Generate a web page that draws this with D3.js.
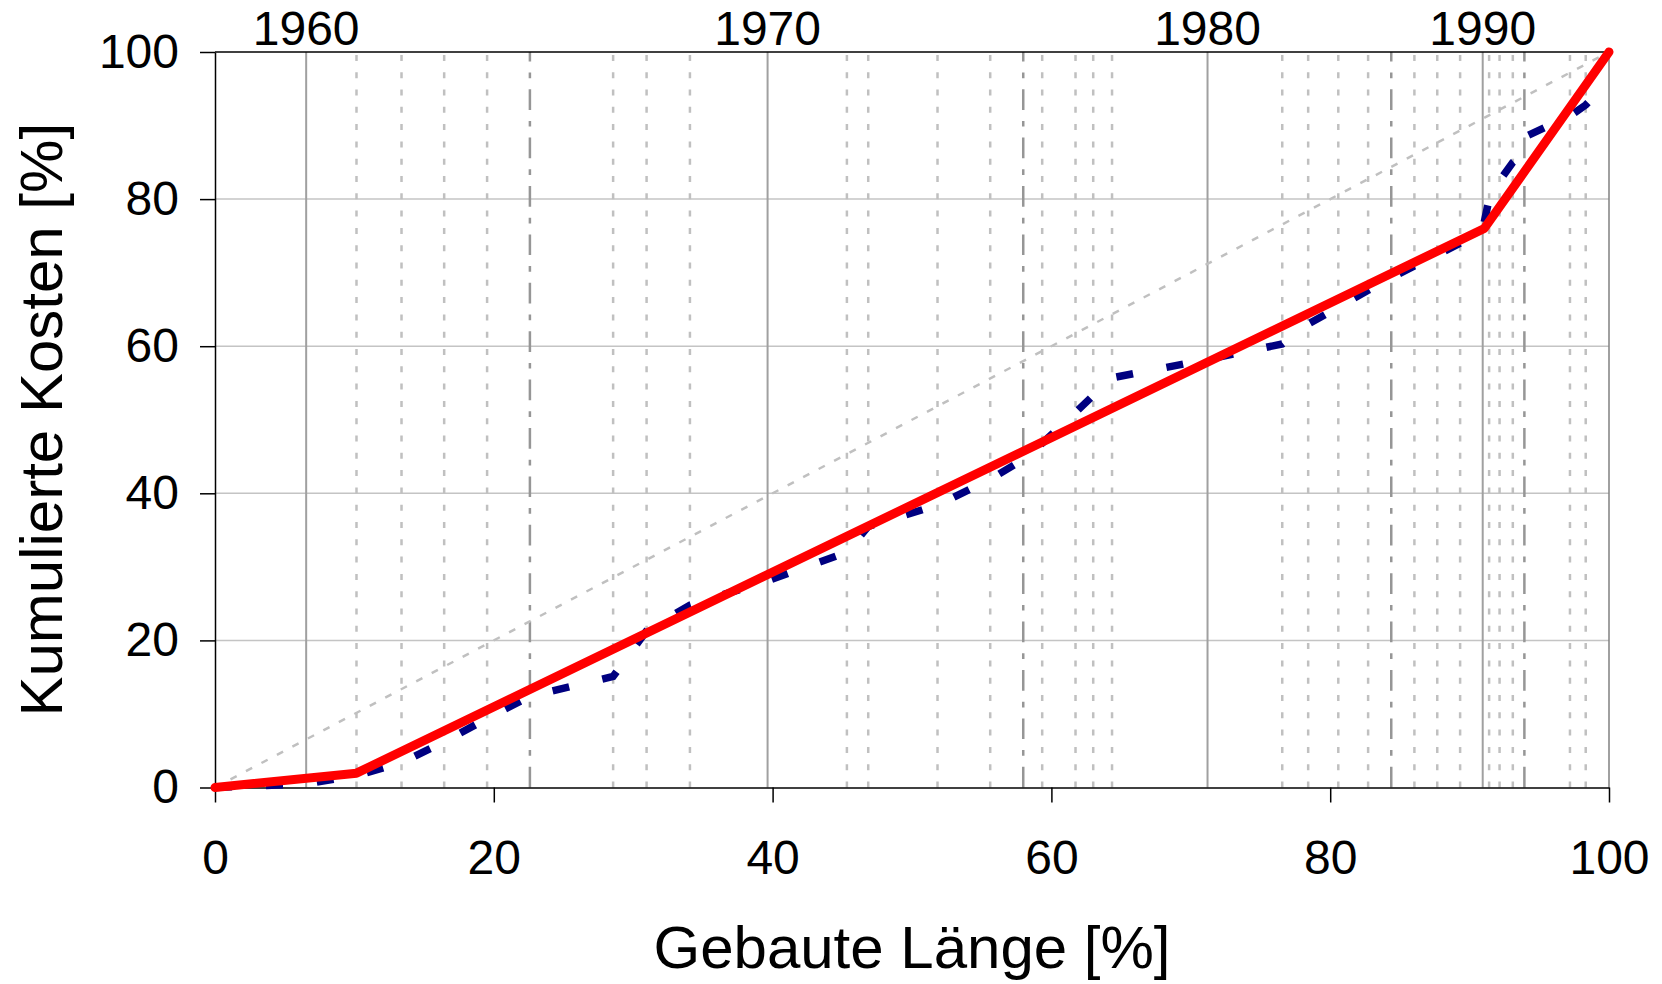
<!DOCTYPE html>
<html>
<head>
<meta charset="utf-8">
<script src="https://cdn.jsdelivr.net/npm/d3@7"></script>
<style>
  body { margin: 0; background: #fff; }
  svg { display: block; font-family: "Liberation Sans", Arial, sans-serif; }
</style>
</head>
<body>
<div id="chart"></div>
<script>
// year markers (x position in % of built length)
const decadeLabels = ["1960", "1970", "1980", "1990"];
const decadeX = [6.54, 39.64, 71.2, 90.94];
const halfDecadeX = [22.59, 57.98, 84.38, 93.93];
const yearX = [10.15, 13.38, 16.44, 19.52, 28.56, 30.96, 34.07, 45.33, 46.86, 51.83,
  55.61, 59.34, 61.73, 63.0, 64.35, 76.56, 78.42, 80.58, 82.72, 86.04, 87.68, 89.32,
  91.4, 92.15, 93.1, 97.2, 98.33];

// cumulative costs, per year
const costX = [0, 6.54, 10.15, 13.38, 16.44, 19.52, 22.59, 28.56, 30.96, 34.07, 39.64,
  45.33, 46.86, 51.83, 55.61, 57.98, 59.34, 61.73, 63.0, 64.35, 71.2, 76.56, 78.42,
  80.58, 82.72, 84.38, 86.04, 87.68, 89.32, 90.94, 91.4, 92.15, 93.1, 93.9, 94.0,
  97.2, 98.33, 100];
const costY = [0, 0.5, 1.6, 3.4, 6.2, 9.4, 12.4, 15.1, 21.3, 24.8, 28.1,
  32.0, 35.5, 38.4, 41.9, 44.6, 46.8, 51.0, 53.3, 55.7, 58.2, 60.3, 63.0,
  65.3, 67.6, 69.3, 70.9, 72.4, 74.0, 75.9, 80.0, 82.5, 85.0, 86.2, 88.5,
  91.3, 92.8, 96.0];

// piecewise fit
const fitX = [0, 10.15, 91.05, 100];
const fitY = [0, 1.95, 76.0, 100];

// equal distribution
const diagX = [0, 100];
const diagY = [0, 100];

const xTicks = [0, 20, 40, 60, 80, 100];
const yTicks = [0, 20, 40, 60, 80, 100];

const width = 1662;
const height = 984;
const margin = { top: 52, right: 53, bottom: 196.5, left: 215 };

const svg = d3.select("#chart")
  .append("svg")
  .attr("width", width)
  .attr("height", height);

const xScale = d3.scaleLinear()
  .domain([0, 100])
  .range([margin.left, width - margin.right]);

const yScale = d3.scaleLinear()
  .domain([0, 100])
  .range([height - margin.bottom, margin.top]);

// horizontal gridlines
svg.append("g")
  .selectAll("line")
  .data(yTicks.filter(d => d > 0 && d < 100))
  .join("line")
  .attr("x1", xScale(0))
  .attr("x2", xScale(100))
  .attr("y1", d => yScale(d))
  .attr("y2", d => yScale(d))
  .attr("stroke", "#c4c4c4")
  .attr("stroke-width", 1.5);

// year lines, drawn from bottom upward
const vline = (cls, data, color, w, dash) => {
  svg.append("g")
    .attr("class", cls)
    .selectAll("line")
    .data(data)
    .join("line")
    .attr("x1", d => xScale(d))
    .attr("x2", d => xScale(d))
    .attr("y1", yScale(0))
    .attr("y2", yScale(100))
    .attr("stroke", color)
    .attr("stroke-width", w)
    .attr("stroke-dasharray", dash);
};
vline("years", yearX, "#c0c0c0", 2.5, "6,11.3");
vline("half", halfDecadeX, "#969696", 2.5, "20.7,11,5.7,11");
vline("decades", decadeX, "#a0a0a0", 2, null);

// right border
svg.append("line")
  .attr("x1", xScale(100)).attr("x2", xScale(100))
  .attr("y1", yScale(0)).attr("y2", yScale(100))
  .attr("stroke", "#808080")
  .attr("stroke-width", 1.5);

// top border
svg.append("line")
  .attr("x1", xScale(0)).attr("x2", xScale(100))
  .attr("y1", yScale(100)).attr("y2", yScale(100))
  .attr("stroke", "#000")
  .attr("stroke-width", 1.5);

// decade labels on top
svg.append("g")
  .selectAll("text")
  .data(decadeX)
  .join("text")
  .attr("x", d => xScale(d))
  .attr("y", 45)
  .attr("text-anchor", "middle")
  .attr("font-size", 48)
  .text((d, i) => decadeLabels[i]);

// add the xAxis
const xAxis = d3.axisBottom(xScale)
  .tickValues(xTicks)
  .tickSize(15)
  .tickSizeOuter(0)
  .tickPadding(37);
svg.append("g")
  .attr("transform", `translate(0,${yScale(0)})`)
  .call(xAxis)
  .call(g => g.selectAll("text").attr("font-size", 48).attr("font-family", null).attr("fill", "#000"))
  .call(g => g.selectAll("line, path").attr("stroke", "#000").attr("stroke-width", 1.5));

// add the yAxis
const yAxis = d3.axisLeft(yScale)
  .tickValues(yTicks)
  .tickSize(15)
  .tickSizeOuter(0)
  .tickPadding(21);
svg.append("g")
  .attr("transform", `translate(${xScale(0)},0)`)
  .call(yAxis)
  .call(g => g.selectAll("text").attr("font-size", 48).attr("font-family", null).attr("fill", "#000"))
  .call(g => g.selectAll("line, path").attr("stroke", "#000").attr("stroke-width", 1.5));

const line = d3.line()
  .x(d => xScale(d[0]))
  .y(d => yScale(d[1]));

// diagonal
svg.append("path")
  .datum(d3.zip(diagX, diagY))
  .attr("d", line)
  .attr("fill", "none")
  .attr("stroke", "#c0c0c0")
  .attr("stroke-width", 2.5)
  .attr("stroke-dasharray", "7,10.5");

// cumulative costs
svg.append("path")
  .datum(d3.zip(costX, costY))
  .attr("d", line)
  .attr("fill", "none")
  .attr("stroke", "#000080")
  .attr("stroke-width", 7.5)
  .attr("stroke-dasharray", "17,34");

// fit
svg.append("path")
  .datum(d3.zip(fitX, fitY))
  .attr("d", line)
  .attr("fill", "none")
  .attr("stroke", "#ff0000")
  .attr("stroke-width", 9)
  .attr("stroke-linejoin", "round")
  .attr("stroke-linecap", "round");

// axis titles
svg.append("text")
  .attr("x", (xScale(0) + xScale(100)) / 2)
  .attr("y", 968)
  .attr("text-anchor", "middle")
  .attr("font-size", 60)
  .text("Gebaute Länge [%]");

svg.append("text")
  .attr("transform", `translate(62,${(yScale(0) + yScale(100)) / 2}) rotate(-90)`)
  .attr("text-anchor", "middle")
  .attr("font-size", 60)
  .text("Kumulierte Kosten [%]");
</script>
</body>
</html>
